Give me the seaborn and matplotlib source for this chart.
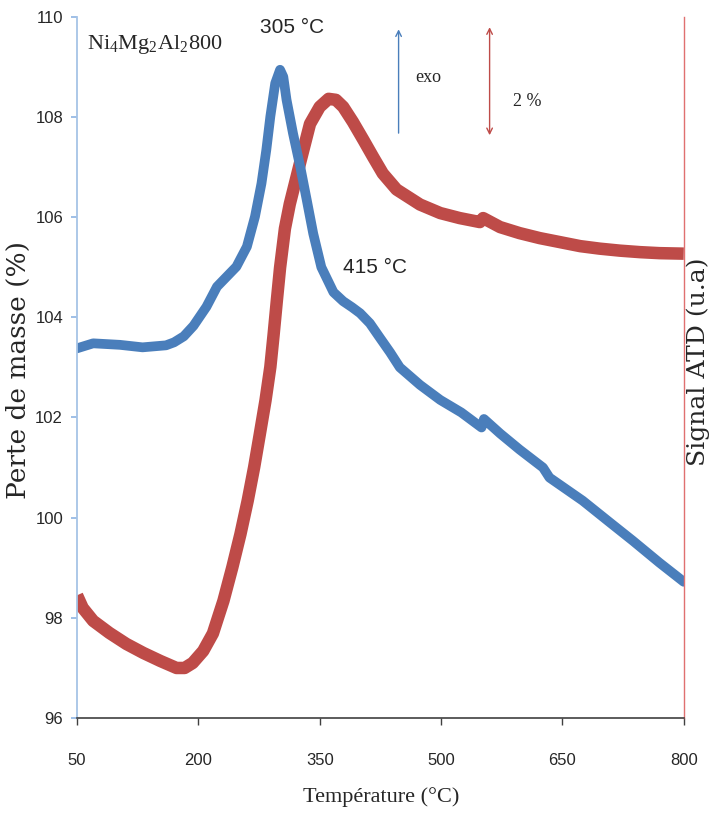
import matplotlib
matplotlib.use('Agg')
import matplotlib.pyplot as plt
import seaborn as sns
import pandas as pd

# DTA signal (blue) and mass curve (red)
temp_atd = [50, 70, 103, 131, 160, 170, 182, 194, 210, 223, 235, 247, 260, 270, 278, 284, 289, 295, 301, 305,
            309, 317, 326, 334, 342, 352, 367, 379, 390, 400, 412, 424, 437, 449, 474, 499, 525, 550, 553, 573,
            597, 626, 634, 675, 709, 737, 770, 800]
signal_atd = [103.38, 103.48, 103.45, 103.40, 103.44, 103.5, 103.62, 103.83, 104.21, 104.61, 104.81, 105.01,
              105.41, 106.01, 106.67, 107.34, 108.01, 108.67, 108.94, 108.8, 108.34, 107.67, 107.0, 106.34,
              105.67, 105.0, 104.5, 104.32, 104.2, 104.08, 103.88, 103.6, 103.3, 103.0, 102.65, 102.35, 102.1,
              101.8, 101.97, 101.68, 101.36, 101.0, 100.8, 100.34, 99.9, 99.54, 99.1, 98.72]

temp_tg = [50, 57, 70, 90, 111, 132, 153, 173, 183, 193, 206, 218, 231, 242, 252, 261, 269, 276, 283, 289,
           293, 297, 301, 307, 313, 326, 338, 350, 361, 370, 379, 391, 404, 416, 428, 445, 474, 499, 523, 548,
           552, 573, 597, 622, 647, 672, 696, 721, 746, 770, 800]
masse_tg = [98.45, 98.2, 97.94, 97.7, 97.48, 97.3, 97.14, 97.0, 97.0, 97.1, 97.34, 97.69, 98.34, 99.01, 99.67,
            100.34, 101.01, 101.67, 102.34, 103.01, 103.65, 104.33, 104.99, 105.77, 106.26, 107.1, 107.86, 108.2,
            108.36, 108.34, 108.2, 107.9, 107.54, 107.2, 106.87, 106.55, 106.25, 106.08, 105.98, 105.9, 105.98,
            105.8, 105.68, 105.58, 105.5, 105.42, 105.37, 105.33, 105.3, 105.28, 105.27]

x_ticks = [50, 200, 350, 500, 650, 800]
y_ticks = [96, 98, 100, 102, 104, 106, 108, 110]

blue = '#4a7ebb'
red = '#be4b48'

sns.set_style('white')
plt.rcParams['font.family'] = ['Liberation Sans', 'DejaVu Sans']
plt.rcParams['mathtext.fontset'] = 'custom'
plt.rcParams['mathtext.rm'] = 'Liberation Serif'

df_atd = pd.DataFrame({'T': temp_atd, 'v': signal_atd})
df_tg = pd.DataFrame({'T': temp_tg, 'v': masse_tg})

fig = plt.figure(figsize=(7.13, 8.34), dpi=100)
ax = fig.add_axes([0.108, 0.139, 0.851, 0.841])

sns.lineplot(data=df_tg, x='T', y='v', ax=ax, color=red, linewidth=9, solid_capstyle='butt')
sns.lineplot(data=df_atd, x='T', y='v', ax=ax, color=blue, linewidth=7, solid_capstyle='round')

ax.set_xlim(50, 800)
ax.set_ylim(96, 110)
ax.set_xticks(x_ticks)
ax.set_yticks(y_ticks)
ax.tick_params(axis='x', direction='out', length=5, width=1, color='#404040', pad=20, labelsize=12)
ax.tick_params(axis='y', direction='out', length=4, width=1.2, color='#8eb4e3', pad=6, labelsize=12)
ax.tick_params(left=True, bottom=True)

ax.spines['top'].set_visible(False)
ax.spines['left'].set_color('#a6c4e6')
ax.spines['left'].set_linewidth(1.3)
ax.spines['bottom'].set_color('#404040')
ax.spines['bottom'].set_linewidth(1.2)
ax.spines['right'].set_color('#e07070')
ax.spines['right'].set_linewidth(1.0)

ax.set_xlabel('Température (°C)', family=['Liberation Serif', 'DejaVu Serif'], fontsize=16)
ax.xaxis.set_label_coords(0.501, -0.098)
ax.set_ylabel('')
fig.text(0.026, 0.556, 'Perte de masse (%)', rotation=90, ha='center', va='center',
         family='DejaVu Serif', fontsize=19)
fig.text(0.979, 0.566, 'Signal ATD (u.a)', rotation=90, ha='center', va='center',
         family='DejaVu Serif', fontsize=18)

# annotations
ax.text(0.0165, 0.960, r'Ni$_4$Mg$_2$Al$_2$800', transform=ax.transAxes, ha='left', va='center',
        family='Liberation Serif', fontsize=16)
ax.text(0.354, 0.984, '305 °C', transform=ax.transAxes, ha='center', va='center', fontsize=15)
ax.text(0.491, 0.642, '415 °C', transform=ax.transAxes, ha='center', va='center', fontsize=15)
ax.text(0.557, 0.913, 'exo', transform=ax.transAxes, ha='left', va='center',
        family='Liberation Serif', fontsize=13)
ax.text(0.718, 0.879, '2 %', transform=ax.transAxes, ha='left', va='center',
        family='Liberation Serif', fontsize=13)

ax.annotate('', xy=(0.530, 0.982), xytext=(0.530, 0.834), xycoords='axes fraction',
            arrowprops=dict(arrowstyle='->', color=blue, lw=1, shrinkA=0, shrinkB=0))
ax.annotate('', xy=(0.680, 0.985), xytext=(0.680, 0.831), xycoords='axes fraction',
            arrowprops=dict(arrowstyle='<->', color=red, lw=1, shrinkA=0, shrinkB=0))

plt.savefig('out.png', dpi=100)
plt.close()
